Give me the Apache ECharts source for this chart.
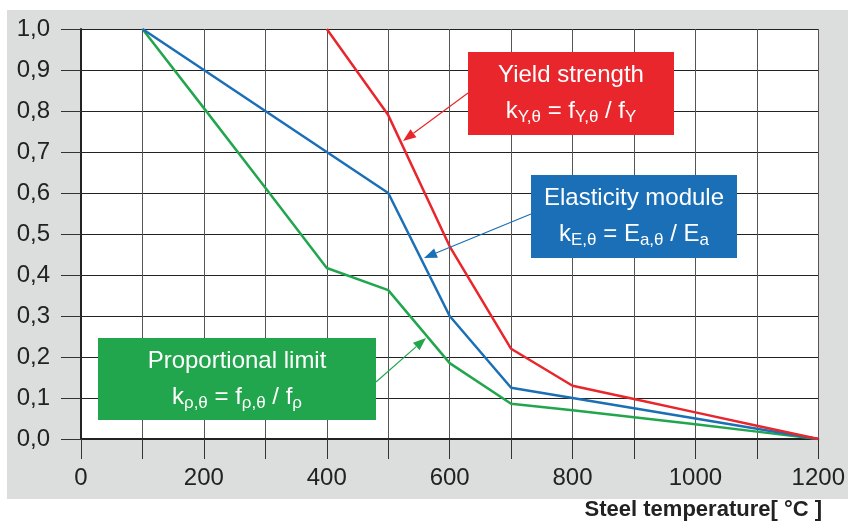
<!DOCTYPE html>
<html>
<head>
<meta charset="utf-8">
<script src="https://cdn.jsdelivr.net/npm/echarts@6/dist/echarts.min.js"></script>
<style>
  html, body { margin: 0; padding: 0; background: #fff; }
  #chart { width: 848px; height: 521px; }
</style>
</head>
<body>
<div id="chart"></div>
<script>
// temperatures (°C)
const temps = [100, 200, 300, 400, 500, 600, 700, 800, 900, 1000, 1100, 1200];
// reduction factors
const yieldStrength = [null, null, null, 1.0, 0.79, 0.47, 0.22, 0.13, 0.0975, 0.065, 0.0325, 0];
const elasticity = [1.0, 0.9, 0.8, 0.7, 0.6, 0.30, 0.125, 0.10, 0.075, 0.05, 0.025, 0];
const propLimit = [1.0, 0.807, 0.613, 0.417, 0.363, 0.185, 0.086, 0.07, 0.053, 0.036, 0.018, 0];

const font = '"Liberation Sans", Arial, sans-serif';
const colors = { red: '#E8262C', blue: '#1A6FB6', green: '#22A64D' };

function pairs(vals) {
  return temps.map((t, i) => [t, vals[i]]).filter(p => p[1] !== null);
}

// line + filled arrow head
function arrow(x1, y1, x2, y2, color) {
  const dx = x2 - x1, dy = y2 - y1;
  const len = Math.sqrt(dx * dx + dy * dy);
  const ux = dx / len, uy = dy / len;
  const hl = 13, hw = 5;
  const bx = x2 - ux * hl, by = y2 - uy * hl;
  return [
    { type: 'line', shape: { x1: x1, y1: y1, x2: bx, y2: by }, style: { stroke: color, lineWidth: 1.2 }, z: 20 },
    { type: 'polygon', shape: { points: [[x2, y2], [bx - uy * hw, by + ux * hw], [bx + uy * hw, by - ux * hw]] }, style: { fill: color }, z: 20 }
  ];
}

function box(x, y, w, h, color, text) {
  return [
    { type: 'rect', shape: { x: x, y: y, width: w, height: h }, style: { fill: color }, z: 20 },
    {
      type: 'text', x: x + w / 2, y: y + h / 2, z: 21,
      style: {
        text: text, align: 'center', verticalAlign: 'middle', fill: '#fff', fontFamily: font,
        rich: {
          t: { fontSize: 24, fill: '#fff', fontFamily: font, lineHeight: 36 },
          m: { fontSize: 24, fill: '#fff', fontFamily: font, lineHeight: 36 },
          s: { fontSize: 17, fill: '#fff', fontFamily: font, padding: [12, 0, 0, 0], lineHeight: 36 }
        }
      }
    }
  ];
}

const chart = echarts.init(document.getElementById('chart'));

const graphics = [
  { type: 'rect', shape: { x: 7, y: 10, width: 841, height: 489 }, style: { fill: '#DCDDDD' }, z: -10, silent: true },
  { type: 'rect', shape: { x: 81, y: 29, width: 738, height: 410 }, style: { fill: '#fff' }, z: -9, silent: true },
  { type: 'text', x: 822, y: 510, style: { text: 'Steel temperature[ °C ]', align: 'right', verticalAlign: 'middle', fontFamily: font, fontSize: 22, fontWeight: 'bold', fill: '#222' } }
]
  .concat(arrow(468, 93, 403, 141, colors.red))
  .concat(box(468, 52, 206, 83, colors.red, '{t|Yield strength}\n{m|k}{s|Y,θ}{m| = f}{s|Y,θ}{m| / f}{s|Y}'))
  .concat(arrow(531, 214, 424, 258, colors.blue))
  .concat(box(531, 175, 206, 83, colors.blue, '{t|Elasticity module}\n{m|k}{s|E,θ}{m| = E}{s|a,θ}{m| / E}{s|a}'))
  .concat(arrow(376, 382, 426, 338, colors.green))
  .concat(box(98, 338, 278, 82, colors.green, '{t|Proportional limit}\n{m|k}{s|ρ,θ}{m| = f}{s|ρ,θ}{m| / f}{s|ρ}'));

const option = {
  backgroundColor: '#fff',
  animation: false,
  grid: { left: 81, right: 29, top: 29, bottom: 82 },
  xAxis: {
    type: 'value', min: 0, max: 1200, interval: 100,
    axisLine: { show: true, lineStyle: { color: '#222', width: 2 } },
    axisTick: { show: true, length: 20, lineStyle: { color: '#333', width: 1 } },
    axisLabel: {
      margin: 27, fontSize: 24, color: '#222', fontFamily: font,
      formatter: v => (v % 200 === 0 ? String(v) : '')
    },
    splitLine: { show: true, lineStyle: { color: '#555', width: 1 } }
  },
  yAxis: {
    type: 'value', min: 0, max: 1, interval: 0.1,
    axisLine: { show: true, lineStyle: { color: '#222', width: 2 } },
    axisTick: { show: true, length: 20, lineStyle: { color: '#333', width: 1 } },
    axisLabel: {
      margin: 31, fontSize: 24, color: '#222', fontFamily: font,
      formatter: v => v.toFixed(1).replace('.', ',')
    },
    splitLine: { show: true, lineStyle: { color: '#222', width: 1 } }
  },
  series: [
    { name: 'Proportional limit', type: 'line', data: pairs(propLimit), showSymbol: false, lineStyle: { color: colors.green, width: 2.5 }, z: 3 },
    { name: 'Elasticity module', type: 'line', data: pairs(elasticity), showSymbol: false, lineStyle: { color: colors.blue, width: 2.5 }, z: 4 },
    { name: 'Yield strength', type: 'line', data: pairs(yieldStrength), showSymbol: false, lineStyle: { color: colors.red, width: 2.5 }, z: 5 }
  ],
  graphic: graphics
};

chart.setOption(option);
</script>
</body>
</html>
